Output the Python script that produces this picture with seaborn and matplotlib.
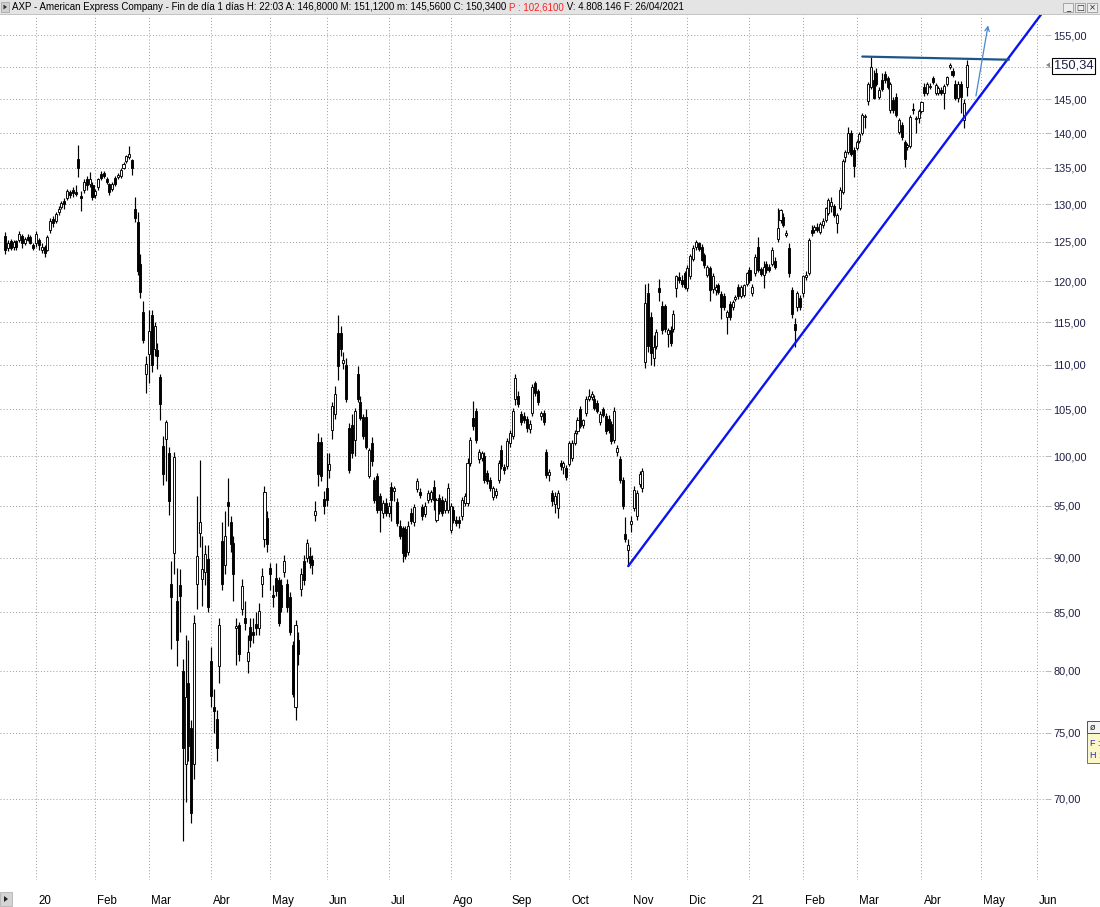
import matplotlib
matplotlib.use("Agg")
import matplotlib.pyplot as plt
import matplotlib.transforms as mtransforms
import seaborn as sns
import numpy as np
import pandas as pd
from matplotlib.patches import Rectangle, Polygon
from matplotlib.ticker import FixedLocator, FuncFormatter, NullLocator

# trading calendar (NYSE holidays removed), first candle 16/12/2019
holidays = ["2019-12-25", "2020-01-01", "2020-01-20", "2020-02-17", "2020-04-10",
            "2020-05-25", "2020-07-03", "2020-09-07", "2020-11-26", "2020-12-25",
            "2021-01-01", "2021-01-18", "2021-02-15", "2021-04-02", "2021-05-31"]

# daily OHLC, one row per month (Dec-19 ... Apr-21)
opens = [
    125.8, 124.2, 125.1, 124.3, 125.1, 125.3, 125.8, 124.9, 125.6, 125.7, 124.6,
    124.8, 125.3, 124.0, 124.4, 124.0, 126.5, 128.0, 127.8, 128.9, 129.6, 130.4, 130.9, 131.7, 131.9, 131.7, 136.3, 131.1, 131.9, 133.4, 132.8, 132.6,
    131.2, 132.3, 134.1, 134.3, 133.4, 132.7, 132.1, 133.6, 133.8, 133.9, 135.0, 136.0, 136.5, 136.1, 129.3, 127.6, 122.2, 116.2, 109.0,
    111.2, 115.8, 111.8, 111.7, 108.6, 101.1, 101.8, 100.3, 87.6, 90.4, 86.0, 87.5, 80.0, 72.6, 79.0, 75.4, 72.6, 87.6, 92.3, 88.0, 88.7, 89.9,
    80.8, 77.0, 76.1, 80.4, 91.6, 89.3, 95.4, 93.4, 91.4, 83.6, 83.9, 85.3, 84.5, 80.8, 83.7, 83.3, 84.0, 83.6, 87.6, 91.8, 93.8,
    89.0, 86.6, 88.1, 87.9, 87.5, 88.7, 87.6, 86.4, 82.2, 77.0, 82.6, 87.1, 89.7, 90.0, 90.1, 89.8, 94.1, 101.5, 101.5, 95.7,
    96.8, 98.6, 102.8, 104.5, 113.7, 113.7, 110.2, 110.0, 103.0, 103.3, 101.7, 109.0, 105.8, 104.2, 104.2, 98.0, 101.4, 97.6, 98.0, 96.0, 94.3, 95.3,
    94.3, 96.9, 96.5, 95.4, 93.0, 92.8, 92.7, 90.5, 94.3, 93.4, 96.7, 96.4, 94.9, 94.2, 95.6, 95.7, 96.9, 93.6, 95.8, 95.6, 94.6, 94.6,
    92.6, 94.6, 93.6, 93.6, 94.0, 95.3, 95.3, 99.3, 104.1, 104.8, 99.7, 99.8, 100.0, 98.3, 97.6, 95.9, 96.1, 97.6, 100.7, 98.9, 99.0,
    101.4, 102.1, 106.1, 106.5, 104.5, 104.3, 104.0, 102.9, 104.6, 107.9, 107.0, 104.3, 104.6, 100.5, 98.1, 96.3, 95.2, 94.8, 99.3, 98.9, 98.8,
    99.2, 99.8, 101.4, 102.7, 105.0, 103.3, 104.6, 106.2, 106.4, 106.2, 105.7, 103.6, 105.0, 104.3, 104.0, 103.4, 101.7, 100.5, 99.7, 97.6, 92.2, 90.7,
    93.2, 94.8, 94.0, 97.2, 96.8, 110.3, 118.5, 115.6, 110.8, 112.2, 119.1, 116.9, 116.9, 113.6, 114.0, 114.2, 119.1, 120.5, 120.1, 121.0,
    119.2, 120.6, 122.8, 124.3, 124.8, 124.4, 123.3, 120.8, 121.6, 119.0, 118.9, 119.5, 118.4, 118.2, 115.6, 117.2, 116.8, 117.8, 119.3, 118.1, 118.3, 119.7,
    121.4, 118.5, 121.0, 124.4, 121.5, 120.8, 122.2, 121.8, 122.2, 122.6, 125.4, 127.9, 128.3, 125.9, 124.2, 118.9, 114.8, 116.8, 117.9,
    118.5, 120.5, 121.0, 126.6, 126.5, 127.0, 126.3, 127.2, 127.9, 128.8, 129.8, 129.7, 127.5, 129.5, 131.7, 136.5, 137.3, 140.0, 137.6,
    137.9, 138.9, 140.0, 142.3, 144.7, 146.9, 147.9, 149.0, 145.3, 148.0, 148.8, 148.2, 143.4, 144.9, 145.4, 140.2, 141.2, 138.7, 138.0, 138.1, 143.6, 142.0, 142.2,
    143.2, 146.9, 146.0, 146.9, 148.2, 146.0, 145.9, 146.4, 145.9, 147.4, 149.9, 149.4, 147.4, 145.2, 147.4, 141.9, 146.8,
]
highs = [
    126.3, 125.2, 125.4, 125.2, 125.3, 126.4, 126.0, 125.7, 126.0, 125.9, 124.8,
    126.4, 125.5, 124.8, 124.6, 125.9, 128.1, 128.4, 129.0, 129.7, 130.5, 130.8, 132.1, 132.0, 132.3, 132.6, 138.2, 131.8, 133.4, 133.9, 134.5, 133.0,
    132.1, 133.6, 134.6, 134.6, 133.7, 132.9, 133.0, 133.9, 134.3, 135.0, 135.9, 136.9, 138.1, 136.3, 131.0, 129.0, 123.5, 117.5, 111.0,
    116.4, 116.5, 115.0, 112.5, 109.0, 102.1, 103.8, 101.0, 89.7, 100.5, 89.0, 88.9, 81.0, 83.0, 82.6, 76.0, 84.8, 96.0, 99.6, 92.0, 91.2, 91.2,
    82.0, 78.5, 76.8, 84.5, 93.4, 94.5, 97.8, 94.0, 92.0, 84.5, 84.2, 88.0, 86.0, 83.0, 84.5, 84.5, 85.0, 85.8, 89.0, 97.0, 94.5,
    89.5, 87.5, 89.5, 88.2, 88.0, 90.2, 88.0, 86.8, 82.5, 84.3, 83.3, 89.0, 90.2, 91.8, 91.0, 90.2, 95.5, 102.5, 102.0, 96.5,
    100.3, 100.3, 105.8, 107.6, 115.9, 114.5, 111.5, 110.8, 103.5, 104.5, 105.2, 109.8, 106.5, 104.5, 105.0, 100.9, 102.0, 97.9, 98.3, 96.3, 95.6, 95.8,
    95.4, 97.4, 97.0, 95.8, 93.6, 93.0, 93.0, 93.5, 94.8, 95.2, 97.8, 96.8, 95.2, 95.4, 96.6, 96.6, 97.6, 95.8, 96.2, 96.0, 95.8, 97.3,
    95.3, 95.0, 94.0, 94.0, 95.9, 96.3, 99.8, 102.0, 105.9, 105.2, 100.8, 100.6, 100.4, 98.6, 97.9, 97.0, 96.8, 99.6, 101.2, 99.2, 101.9,
    102.8, 105.2, 109.0, 107.0, 104.8, 104.7, 104.3, 103.8, 107.8, 108.1, 107.3, 104.8, 104.9, 100.8, 98.7, 96.6, 96.4, 96.6, 99.6, 99.5, 99.1,
    101.6, 101.7, 102.8, 104.2, 105.4, 104.0, 106.5, 107.3, 107.0, 106.6, 106.0, 104.8, 105.3, 104.6, 104.4, 103.7, 105.3, 101.2, 100.0, 97.9, 93.9, 91.8,
    94.0, 97.0, 96.6, 98.5, 98.8, 119.7, 119.8, 116.2, 113.5, 114.2, 120.3, 117.5, 117.2, 114.3, 114.5, 116.5, 120.8, 121.2, 120.8, 121.3,
    122.0, 123.5, 124.6, 125.3, 125.0, 124.7, 123.6, 122.0, 121.9, 121.0, 119.7, 119.8, 118.8, 118.5, 116.5, 117.6, 117.7, 118.3, 119.6, 119.5, 119.7, 121.2,
    121.8, 119.6, 123.4, 125.6, 121.8, 122.5, 122.6, 122.2, 124.3, 123.0, 129.5, 129.4, 128.8, 126.5, 124.8, 119.3, 115.5, 118.8, 118.3,
    120.8, 121.3, 125.5, 127.2, 127.2, 127.5, 127.6, 128.2, 129.6, 130.8, 131.0, 130.0, 128.8, 132.3, 136.3, 137.6, 140.9, 140.5, 138.0,
    139.0, 140.2, 142.9, 142.8, 147.6, 151.5, 149.5, 149.8, 146.8, 149.0, 149.3, 148.6, 147.6, 145.3, 146.0, 142.2, 141.6, 139.0, 138.6, 142.6, 144.4, 142.5, 143.6,
    144.8, 147.5, 147.6, 147.5, 148.6, 147.5, 147.0, 146.8, 147.4, 148.6, 150.6, 149.8, 148.0, 147.8, 147.8, 145.0, 151.12,
]
lows = [
    123.5, 123.8, 123.9, 124.0, 124.0, 125.0, 124.2, 124.6, 125.1, 124.7, 124.0,
    124.4, 124.0, 123.6, 123.0, 123.8, 126.2, 127.0, 127.5, 128.6, 129.3, 129.4, 130.6, 130.9, 131.0, 131.1, 133.8, 129.1, 131.5, 132.0, 132.3, 130.6,
    130.8, 132.0, 133.3, 133.6, 132.7, 131.2, 131.8, 132.5, 133.4, 133.6, 134.8, 135.7, 136.2, 134.0, 127.6, 120.8, 117.9, 112.5, 106.8,
    107.9, 109.2, 111.0, 109.5, 103.9, 97.1, 97.5, 94.1, 81.8, 88.5, 80.4, 83.3, 67.0, 69.8, 72.8, 68.3, 71.5, 85.3, 91.0, 85.6, 87.5, 85.0,
    77.0, 75.0, 72.8, 79.0, 87.0, 88.5, 93.0, 90.5, 86.0, 80.5, 80.8, 84.8, 83.5, 79.8, 82.0, 82.3, 83.0, 83.0, 86.4, 91.0, 90.5,
    87.0, 85.5, 86.5, 83.8, 85.0, 88.2, 85.0, 83.0, 77.8, 76.0, 80.5, 86.5, 87.5, 89.6, 89.0, 88.5, 93.5, 97.0, 97.5, 94.2,
    95.0, 97.8, 101.8, 104.0, 108.3, 111.0, 109.5, 105.8, 98.3, 99.8, 100.0, 105.8, 103.8, 101.8, 100.8, 97.8, 99.0, 95.3, 94.3, 92.4, 93.8, 94.0,
    93.9, 93.5, 95.5, 93.0, 91.8, 89.6, 89.9, 90.2, 93.2, 93.0, 96.4, 95.8, 93.6, 93.9, 95.3, 95.4, 94.6, 93.4, 94.2, 94.0, 94.3, 94.3,
    92.3, 93.3, 93.0, 92.8, 93.6, 95.0, 95.0, 99.0, 102.8, 101.4, 99.3, 99.5, 97.3, 97.2, 96.5, 95.6, 95.8, 97.3, 98.7, 98.2, 98.7,
    101.0, 101.8, 105.5, 105.3, 103.3, 103.5, 102.6, 102.5, 104.3, 106.5, 105.5, 103.8, 103.3, 97.8, 97.5, 95.0, 94.3, 93.8, 98.6, 98.2, 97.6,
    99.0, 99.5, 101.2, 102.4, 103.0, 103.0, 104.3, 105.9, 106.0, 104.9, 104.6, 103.3, 104.2, 102.4, 102.5, 101.3, 101.4, 100.0, 97.3, 94.7, 91.5, 89.2,
    92.4, 94.5, 93.6, 96.9, 96.4, 109.6, 111.5, 110.0, 109.8, 111.8, 117.5, 113.6, 113.8, 112.0, 112.2, 113.8, 118.0, 119.8, 119.3, 119.0,
    118.8, 120.3, 122.5, 124.0, 123.8, 122.5, 121.7, 120.5, 117.6, 118.5, 118.3, 118.4, 115.4, 116.5, 113.6, 115.3, 116.5, 117.6, 117.8, 117.9, 118.0, 119.4,
    119.8, 118.2, 120.7, 121.1, 120.6, 119.2, 121.0, 121.2, 121.9, 121.5, 125.0, 127.5, 126.9, 125.6, 120.5, 115.5, 112.0, 116.3, 116.5,
    118.0, 120.2, 120.8, 125.8, 126.2, 126.3, 126.0, 126.8, 127.6, 128.5, 129.0, 128.3, 126.2, 129.2, 131.4, 135.8, 137.0, 136.7, 133.8,
    137.5, 138.5, 139.7, 140.8, 144.2, 146.5, 145.0, 147.0, 145.0, 146.2, 147.5, 146.5, 143.0, 143.0, 142.3, 139.8, 139.0, 135.2, 137.6, 137.8, 142.8, 140.0, 141.5,
    142.9, 145.5, 145.7, 146.6, 147.4, 145.7, 145.6, 145.6, 143.6, 147.1, 149.6, 148.4, 144.9, 144.6, 143.0, 140.8, 145.56,
]
closes = [
    124.0, 124.8, 124.2, 125.0, 124.3, 126.0, 124.9, 125.4, 125.2, 124.9, 124.2,
    126.0, 124.6, 124.3, 123.6, 125.6, 127.8, 127.5, 128.7, 129.4, 130.2, 130.0, 131.8, 131.3, 131.5, 131.4, 135.0, 130.9, 133.0, 132.6, 133.5, 131.0,
    131.8, 133.4, 133.6, 133.9, 133.0, 131.7, 132.7, 132.8, 134.0, 134.7, 135.6, 136.7, 137.0, 135.0, 128.2, 121.3, 118.6, 112.9, 110.1,
    113.9, 110.0, 114.5, 111.0, 105.6, 98.2, 103.6, 95.5, 86.4, 99.9, 82.6, 86.5, 73.8, 77.8, 74.0, 69.0, 84.1, 90.1, 93.4, 88.9, 90.3, 85.5,
    77.9, 76.7, 73.8, 83.9, 87.6, 92.0, 95.0, 91.3, 88.5, 83.8, 81.4, 87.4, 84.1, 81.6, 82.6, 83.0, 83.6, 85.1, 88.3, 96.4, 91.3,
    88.5, 86.4, 86.9, 84.1, 85.5, 89.7, 85.5, 83.3, 78.1, 83.9, 81.4, 88.5, 87.9, 91.4, 89.5, 89.3, 94.5, 98.2, 98.0, 95.0,
    95.6, 99.2, 105.4, 106.7, 109.8, 111.8, 110.5, 106.2, 98.6, 100.3, 104.8, 106.2, 104.1, 102.1, 101.0, 100.7, 99.5, 95.6, 94.6, 94.6, 95.3, 94.3,
    95.0, 95.6, 96.8, 93.3, 92.0, 90.4, 90.1, 93.0, 93.5, 94.9, 97.5, 96.1, 94.0, 95.0, 96.3, 96.4, 95.6, 95.6, 94.5, 94.3, 95.5, 96.8,
    95.0, 93.6, 93.3, 93.3, 95.6, 96.0, 99.3, 101.7, 103.2, 101.7, 100.5, 100.3, 97.6, 97.5, 96.8, 96.8, 96.5, 99.3, 99.0, 98.6, 101.6,
    102.5, 104.8, 108.5, 105.6, 103.6, 103.9, 103.0, 103.4, 107.5, 106.8, 105.8, 104.6, 103.6, 98.1, 98.4, 95.5, 96.0, 96.3, 99.0, 99.3, 97.9,
    101.4, 101.4, 102.5, 103.9, 103.2, 103.8, 106.2, 106.5, 106.7, 105.2, 104.8, 104.5, 104.4, 102.7, 102.8, 101.6, 104.8, 100.9, 97.6, 95.0, 91.8, 91.2,
    93.5, 96.6, 96.3, 98.2, 98.5, 117.3, 112.2, 111.3, 112.0, 113.8, 118.7, 114.0, 114.2, 114.0, 112.5, 116.0, 120.6, 120.2, 119.6, 119.3,
    121.6, 123.2, 124.2, 125.0, 124.1, 122.7, 122.0, 121.8, 118.9, 120.6, 119.3, 118.7, 116.8, 116.8, 116.2, 115.6, 117.4, 118.0, 118.1, 119.3, 119.5, 121.0,
    120.1, 119.3, 123.1, 121.4, 120.9, 121.8, 121.4, 121.4, 124.0, 121.8, 126.8, 129.2, 127.2, 126.2, 121.0, 116.0, 114.0, 118.5, 116.8,
    120.6, 120.8, 125.2, 126.2, 127.0, 126.5, 127.4, 127.8, 129.5, 130.6, 130.3, 128.6, 128.6, 132.0, 136.0, 137.3, 140.0, 137.0, 135.3,
    138.7, 139.9, 142.7, 142.5, 147.4, 150.0, 145.2, 147.4, 146.4, 146.5, 147.9, 146.9, 147.4, 143.4, 142.7, 141.9, 139.4, 136.2, 138.2, 142.4, 143.4, 142.2, 143.3,
    144.6, 145.9, 147.3, 147.1, 147.7, 147.2, 146.7, 145.9, 147.0, 148.4, 150.2, 148.7, 145.2, 147.4, 145.4, 144.4, 150.34,
]

month_starts = ["2020-01-02", "2020-02-03", "2020-03-02", "2020-04-01", "2020-05-01", "2020-06-01",
                "2020-07-01", "2020-08-03", "2020-09-01", "2020-10-01", "2020-11-02", "2020-12-01",
                "2021-01-04", "2021-02-01", "2021-03-01", "2021-04-01", "2021-05-03", "2021-06-01"]
month_labels = ["20", "Feb", "Mar", "Abr", "May", "Jun", "Jul", "Ago", "Sep",
                "Oct", "Nov", "Dic", "21", "Feb", "Mar", "Abr", "May", "Jun"]
price_ticks = [70, 75, 80, 85, 90, 95, 100, 105, 110, 115, 120, 125, 130, 135, 140, 145, 150, 155]
last_price = 150.34

# hand drawn lines (candle index, price)
support_x = [221, 370]
support_y = [89.2, 160.0]
resist_x = [304, 356]
resist_y = [151.6, 151.1]
arrow_x = [344.3, 348.6]
arrow_y = [145.5, 156.6]

header_main = ("AXP - American Express Company - Fin de día 1 días H: 22:03 A: 146,8000 "
               "M: 151,1200 m: 145,5600 C: 150,3400 ")
header_red = "P : 102,6100"
header_tail = " V: 4.808.146 F: 26/04/2021"

sns.set_theme(style="white")
plt.rcParams['font.family'] = ['Liberation Sans', 'DejaVu Sans']

o, h, l, c = (np.array(v, dtype=float) for v in (opens, highs, lows, closes))
assert len(o) == len(h) == len(l) == len(c) == 342

days = pd.bdate_range("2019-12-16", "2021-06-30")
days = days[~days.isin(pd.to_datetime(holidays))]

W, H = 1100, 907
fig = plt.figure(figsize=(W / 100, H / 100), dpi=100)
ax = fig.add_axes([0, 27 / H, 1045 / W, 865 / H])
ax.set_yscale('log')

x = np.arange(len(c))
up = c >= o
body_lo = np.minimum(o, c)
body_h = np.maximum(np.abs(c - o), 0.15)

ax.vlines(x, l, h, color='black', linewidth=0.85, zorder=2)
ax.bar(x[up], body_h[up], bottom=body_lo[up], width=0.72, color='white',
       edgecolor='black', linewidth=0.65, zorder=3)
ax.bar(x[~up], body_h[~up], bottom=body_lo[~up], width=0.72, color='black',
       edgecolor='black', linewidth=0.65, zorder=3)

sns.lineplot(x=support_x, y=support_y, ax=ax, color='#0a14f0', linewidth=1.7, zorder=4)
sns.lineplot(x=resist_x, y=resist_y, ax=ax, color='#1d5587', linewidth=1.6, zorder=4)
ax.annotate('', xy=(arrow_x[1], arrow_y[1]), xytext=(arrow_x[0], arrow_y[0]),
            arrowprops=dict(arrowstyle='->', color='#4a88cc', lw=0.9,
                            shrinkA=0, shrinkB=0, mutation_scale=8), zorder=4)

ax.set_xlim(-1.8, 368.8)
ax.set_ylim(64.34, 158.3)

# axes / grid
for s in ax.spines.values():
    s.set_visible(False)
ax.set_axisbelow(True)
ax.grid(True, color='#9c9c9c', linestyle=(0, (1, 2.2)), linewidth=0.7)


def price_label(v, p):
    # the 150 label sits under the last-price box
    if abs(v - 150) < 1e-6:
        return ''
    return f"{v:.2f}".replace('.', ',')


ax.yaxis.set_major_locator(FixedLocator(price_ticks))
ax.yaxis.set_minor_locator(NullLocator())
ax.yaxis.set_major_formatter(FuncFormatter(price_label))
ax.yaxis.tick_right()
ax.tick_params(axis='y', which='major', length=4, width=0.6, color='#b0b0b0',
               labelsize=7.9, labelcolor='#1e1e46', pad=2)

pos = days.get_indexer(pd.to_datetime(month_starts))
ax.set_xticks(pos)
ax.set_xticklabels(month_labels, ha='left')
ax.tick_params(axis='x', length=0, labelsize=8.3, labelcolor='black', pad=10.5)
shift = mtransforms.ScaledTranslation(2 / 100, 0, fig.dpi_scale_trans)
for lab in ax.get_xticklabels():
    lab.set_transform(lab.get_transform() + shift)
ax.set_xlabel('')
ax.set_ylabel('')


def fy(py):
    return 1 - py / H


# last price box on the right axis
fig.text(1054 / W, fy(66), f"{last_price:.2f}".replace('.', ','), fontsize=9.3,
         color='#1e1e46', va='center', ha='left', zorder=10,
         bbox=dict(boxstyle='square,pad=0.12', fc='white', ec='black', lw=0.8))
fig.add_artist(Polygon([[1046 / W, fy(65)], [1050 / W, fy(62.5)], [1050 / W, fy(67.5)]],
                       closed=True, transform=fig.transFigure, fc='#888888', ec='none'))

# header strip
fig.add_artist(Rectangle((0, fy(15)), 1, 15 / H, transform=fig.transFigure,
                         fc='#e4e4e4', ec='none', zorder=5))
fig.add_artist(Rectangle((0, fy(15)), 1, 0.6 / H, transform=fig.transFigure,
                         fc='#c4c4c4', ec='none', zorder=5))
fig.add_artist(Rectangle((1 / W, fy(12)), 8 / W, 10 / H, transform=fig.transFigure,
                         fc='#d0d0d0', ec='#a0a0a0', lw=0.5, zorder=6))
fig.add_artist(Polygon([[3.5 / W, fy(4.5)], [7 / W, fy(7)], [3.5 / W, fy(9.5)]], closed=True,
                       transform=fig.transFigure, fc='#303030', ec='none', zorder=7))

fig.canvas.draw()
renderer = fig.canvas.get_renderer()
hx = 12
for txt, col in ((header_main, 'black'), (header_red, '#ff2020'), (header_tail, 'black')):
    t = fig.text(hx / W, fy(7.5), txt, fontsize=7.05, color=col, va='center', ha='left', zorder=8)
    hx = t.get_window_extent(renderer).x1

for bx, glyph in ((1063, '_'), (1075, '□'), (1087, '×')):
    fig.add_artist(Rectangle((bx / W, fy(12)), 10 / W, 9 / H, transform=fig.transFigure,
                             fc='#ececec', ec='#8a8a8a', lw=0.5, zorder=6))
    fig.text((bx + 5) / W, fy(7.5), glyph, fontsize=6, ha='center', va='center',
             family=['DejaVu Sans'], zorder=8)

# small widgets: bottom-left button and the clipped info box at the right
fig.add_artist(Rectangle((0, fy(906)), 12 / W, 14 / H, transform=fig.transFigure,
                         fc='#d4d4d4', ec='#a8a8a8', lw=0.5, zorder=6))
fig.add_artist(Polygon([[4 / W, fy(896)], [8 / W, fy(899)], [4 / W, fy(902)]], closed=True,
                       transform=fig.transFigure, fc='#202020', ec='none', zorder=7))
fig.add_artist(Rectangle((1087 / W, fy(763)), 14 / W, 30 / H, transform=fig.transFigure,
                         fc='#fbf7c8', ec='#707070', lw=0.7, zorder=6))
fig.add_artist(Rectangle((1087 / W, fy(733)), 14 / W, 12 / H, transform=fig.transFigure,
                         fc='#f4f4f4', ec='#505050', lw=0.7, zorder=6))
fig.text(1090 / W, fy(727.5), 'ø', fontsize=6.5, va='center', ha='left',
         family=['DejaVu Sans'], zorder=8)
fig.text(1090 / W, fy(744), 'F :', fontsize=6.5, color='#2828c8', va='center', ha='left', zorder=8)
fig.text(1090 / W, fy(756), 'H :', fontsize=6.5, color='#2828c8', va='center', ha='left', zorder=8)

fig.savefig('out.png', dpi=100)
